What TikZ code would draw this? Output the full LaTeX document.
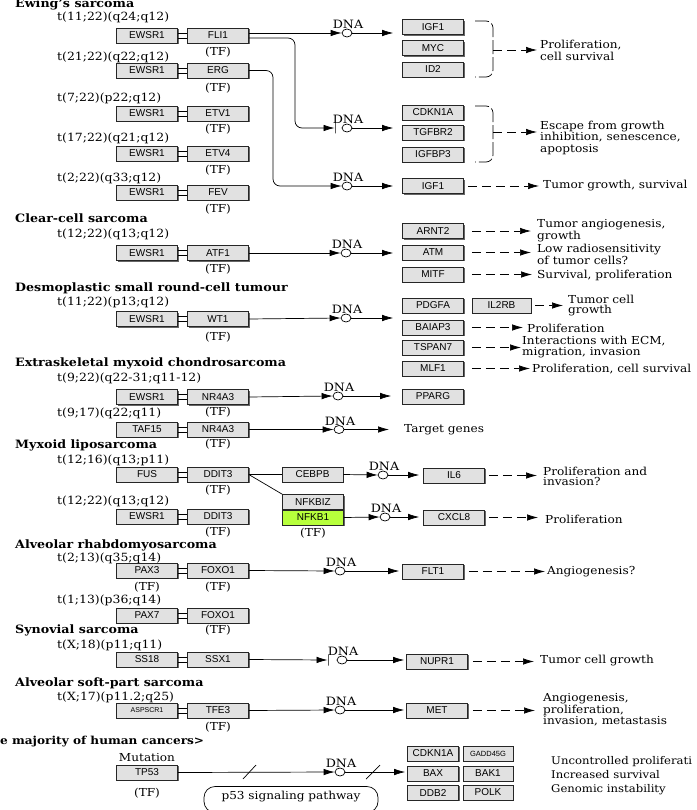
\documentclass[tikz,border=0pt]{standalone}
\usepackage{fontspec}
\setmainfont{DejaVu Serif}[FakeStretch=1.1]
\newfontfamily\gsans{Liberation Sans}
\usetikzlibrary{arrows.meta,shapes.geometric,shadows}
\definecolor{boxgray}{RGB}{225,225,225}
\definecolor{tfgreen}{RGB}{183,255,60}
\newcommand\fuse[2]{\draw[conn] ([yshift=2.5pt]#1.east) -- ([yshift=2.5pt]#2.west) ([yshift=-2.5pt]#1.east) -- ([yshift=-2.5pt]#2.west);}
\newcommand\dna[3]{\node[dnac] (#1) at (#2,#3) {}; \node[dnal] at ([xshift=1pt,yshift=4.5pt]#1.center) {DNA};}
\begin{document}
\begin{tikzpicture}[x=1pt,y=-1pt,
 gene/.style={draw=black!85, line width=0.6pt, fill=boxgray, minimum width=61pt, minimum height=15pt, inner sep=0pt, font=\gsans\fontsize{10}{10}\selectfont, drop shadow={shadow xshift=1.2pt, shadow yshift=-1.2pt, opacity=1, fill=black!60}},
 conn/.style={line width=0.7pt},
 act/.style={line width=0.7pt, -{Latex[length=11pt,width=6.5pt]}},
 dact/.style={line width=0.7pt, dash pattern=on 9pt off 5pt, -{Latex[length=11pt,width=6.5pt]}},
 brk/.style={line width=0.7pt, rounded corners=7pt, dash pattern=on 14pt off 3pt},
 inh/.style={draw, line width=0.9pt, minimum width=0pt, minimum height=11pt, inner sep=0pt},
 dnac/.style={ellipse, draw, line width=0.7pt, fill=white, minimum width=10pt, minimum height=8pt, inner sep=0pt},
 dnal/.style={anchor=base, inner sep=0pt, font=\fontsize{11.5}{11}\selectfont},
 tl/.style={anchor=west, inner sep=0pt, font=\fontsize{11.3}{11}\selectfont},
 tf/.style={inner sep=0pt, font=\fontsize{11}{11}\selectfont},
 title/.style={anchor=west, inner sep=0pt, font=\bfseries\fontsize{11.5}{11}\selectfont},
 res/.style={anchor=west, inner sep=0pt, align=left, font=\fontsize{11}{10}\selectfont},
 pathway/.style={draw, line width=0.7pt, rounded corners=11pt, minimum width=174pt, minimum height=26pt, text height=8pt, text depth=9pt, inner sep=0pt, font=\fontsize{11}{11}\selectfont}
]
\fill[white] (0,0) rectangle (696,810);
\useasboundingbox (0,0) rectangle (696,810);

% ---------------- Ewing's sarcoma
\node[title] (tEw) at (15,4) {Ewing's sarcoma};
\node[tl] (l1) at (57,17) {t(11;22)(q24;q12)};
\node[gene] (a1) at (147,35.5) {EWSR1};
\node[gene] (b1) at (218,35.5) {FLI1};
\node[tf] (f1) at (218,52) {(TF)};
\fuse{a1}{b1}
\node[tl] (l2) at (57,57) {t(21;22)(q22;q12)};
\node[gene] (a2) at (147,70.5) {EWSR1};
\node[gene] (b2) at (218,70.5) {ERG};
\node[tf] (f2) at (218,88) {(TF)};
\fuse{a2}{b2}
\node[tl] (l3) at (57,98) {t(7;22)(p22;q12)};
\node[gene] (a3) at (147,113.5) {EWSR1};
\node[gene] (b3) at (218,113.5) {ETV1};
\node[tf] (f3) at (218,129) {(TF)};
\fuse{a3}{b3}
\node[tl] (l4) at (57,138) {t(17;22)(q21;q12)};
\node[gene] (a4) at (147,153.5) {EWSR1};
\node[gene] (b4) at (218,153.5) {ETV4};
\node[tf] (f4) at (218,170) {(TF)};
\fuse{a4}{b4}
\node[tl] (l5) at (57,178) {t(2;22)(q33;q12)};
\node[gene] (a5) at (147,192.5) {EWSR1};
\node[gene] (b5) at (218,192.5) {FEV};
\node[tf] (f5) at (218,209) {(TF)};
\fuse{a5}{b5}

\dna{d1}{347}{33}
\draw[act] ([yshift=2.5pt]b1.east) -- (d1.west);
\node[gene] (g1) at (433,27) {IGF1};
\node[gene] (g2) at (433,48) {MYC};
\node[gene] (g3) at (433,69.5) {ID2};
\draw[act, shorten >=9pt] (d1.east) -- (d1.east -| g1.west);
\draw[brk] (475,21) -- (493,21) -- (493,77) -- (475,77);
\coordinate (c1) at (493,50);
\node[res, font=\fontsize{11}{12}\selectfont] (r1) at (540,50) {Proliferation,\\cell survival};
\draw[dact, shorten >=3pt] (c1) -- (c1 -| r1.west);

\node[inh] (i1) at (335,128) {};
\draw[act, rounded corners=7pt] ([yshift=-2.5pt]b1.east) -- (295,38) -- (295,128) -- (i1.west);
\dna{d2}{347}{128}
\node[gene] (g4) at (433,112.5) {CDKN1A};
\node[gene] (g5) at (433,132.5) {TGFBR2};
\node[gene] (g6) at (433,154.5) {IGFBP3};
\draw[act, shorten >=9pt] (d2.east) -- (d2.east -| g5.west);
\draw[brk] (475,106) -- (493,106) -- (493,162) -- (475,162);
\coordinate (c2) at (493,132);
\node[res, font=\fontsize{11}{11.5}\selectfont] (r2) at (540,137.5) {Escape from growth\\inhibition, senescence,\\apoptosis};
\draw[dact, shorten >=3pt] (c2) -- (c2 -| r2.west);

\dna{d3}{347}{186}
\draw[act, rounded corners=7pt] (b2.east) -- (273,70.5) -- (273,186) -- (d3.west);
\node[gene] (g7) at (433,186) {IGF1};
\draw[act, shorten >=9pt] (d3.east) -- (d3.east -| g7.west);
\node[res] (r3) at (543,186) {Tumor growth, survival};
\draw[dact, shorten <=4pt, shorten >=4pt] (g7.east) -- (g7.east -| r3.west);

% ---------------- Clear-cell sarcoma
\node[title] (tCl) at (15,218) {Clear-cell sarcoma};
\node[tl] (l6) at (57,234) {t(12;22)(q13;q12)};
\node[gene] (a6) at (147,253) {EWSR1};
\node[gene] (b6) at (218,253) {ATF1};
\node[tf] (f6) at (218,269) {(TF)};
\fuse{a6}{b6}
\dna{d4}{346}{253}
\draw[act] (b6.east) -- (d4.west);
\node[gene] (g8) at (433,231) {ARNT2};
\node[gene] (g9) at (433,252.5) {ATM};
\node[gene] (g10) at (433,274.5) {MITF};
\draw[act, shorten >=9pt] (d4.east) -- (d4.east -| g9.west);
\node[res, font=\fontsize{11}{9.5}\selectfont] (r4) at (537,230.5) {Tumor angiogenesis,\\growth};
\node[res, font=\fontsize{11}{9.5}\selectfont] (r5) at (537,254) {Low radiosensitivity\\of tumor cells?};
\node[res] (r6) at (537,275) {Survival, proliferation};
\draw[dact, shorten <=8pt, shorten >=6pt] (g8.east) -- (g8.east -| r4.west);
\draw[dact, shorten <=8pt, shorten >=6pt] (g9.east) -- (g9.east -| r5.west);
\draw[dact, shorten <=8pt, shorten >=5pt] (g10.east) -- (g10.east -| r6.west);

% ---------------- Desmoplastic small round-cell tumour
\node[title] (tDs) at (15,288) {Desmoplastic small round-cell tumour};
\node[tl] (l7) at (57,302) {t(11;22)(p13;q12)};
\node[gene] (a7) at (147,319) {EWSR1};
\node[gene] (b7) at (218,319) {WT1};
\node[tf] (f7) at (218,337) {(TF)};
\fuse{a7}{b7}
\dna{d5}{346}{318}
\draw[act] (b7.east) -- (d5.west);
\node[gene] (g11) at (433,305.5) {PDGFA};
\node[gene, minimum width=59pt] (g12) at (501.5,305.5) {IL2RB};
\node[gene] (g13) at (433,327.5) {BAIAP3};
\node[gene] (g14) at (433,347.5) {TSPAN7};
\node[gene] (g15) at (433,368.5) {MLF1};
\draw[act, shorten >=9pt] (d5.east) -- (d5.east -| g11.west);
\node[res, font=\fontsize{11}{10.5}\selectfont] (r7) at (568,305.5) {Tumor cell\\growth};
\node[res] (r8) at (527,328) {Proliferation};
\node[res, font=\fontsize{11}{10.5}\selectfont] (r9) at (522,347) {Interactions with ECM,\\migration, invasion};
\node[res] (r10) at (532,369) {Proliferation, cell survival};
\draw[dact, shorten <=4pt, shorten >=5pt] (g12.east) -- (g12.east -| r7.west);
\draw[dact, shorten <=8pt, shorten >=4pt] (g13.east) -- (g13.east -| r8.west);
\draw[dact, shorten <=8pt, shorten >=1pt] (g14.east) -- (g14.east -| r9.west);
\draw[dact, shorten <=8pt, shorten >=2pt] (g15.east) -- (g15.east -| r10.west);

% ---------------- Extraskeletal myxoid chondrosarcoma
\node[title] (tEx) at (15,363) {Extraskeletal myxoid chondrosarcoma};
\node[tl] (l8) at (57,378) {t(9;22)(q22-31;q11-12)};
\node[gene] (a8) at (147,397) {EWSR1};
\node[gene] (b8) at (218,397) {NR4A3};
\node[tf] (f8) at (218,412) {(TF)};
\fuse{a8}{b8}
\dna{d6}{338}{396}
\draw[act] (b8.east) -- (d6.west);
\node[gene] (g16) at (433,396.5) {PPARG};
\draw[act, shorten >=11pt] (d6.east) -- (d6.east -| g16.west);
\node[tl] (l9) at (57,413) {t(9;17)(q22;q11)};
\node[gene] (a9) at (147,429.5) {TAF15};
\node[gene] (b9) at (218,429.5) {NR4A3};
\node[tf] (f9) at (218,444) {(TF)};
\fuse{a9}{b9}
\dna{d7}{339}{429.5}
\draw[act] (b9.east) -- (d7.west);
\node[res] (r11) at (404,430) {Target genes};
\draw[act, shorten >=15pt] (d7.east) -- (d7.east -| r11.west);

% ---------------- Myxoid liposarcoma
\node[title] (tMy) at (15,445) {Myxoid liposarcoma};
\node[tl] (l10) at (57,460) {t(12;16)(q13;p11)};
\node[gene] (a10) at (147,474.5) {FUS};
\node[gene] (b10) at (218,474.5) {DDIT3};
\node[tf] (f10) at (218,490) {(TF)};
\fuse{a10}{b10}
\node[gene] (g17) at (312.5,474.5) {CEBPB};
\node[gene] (g18) at (313,502) {NFKBIZ};
\node[gene, fill=tfgreen] (g19) at (313,517.5) {NFKB1};
\node[tf] (f19) at (313,533) {(TF)};
\draw[conn] (b10.east) -- (g17.west);
\draw[conn] (b10.east) -- (g18.north west);
\dna{d8}{383}{475}
\draw[act] (g17.east) -- (d8.west);
\node[gene] (g20) at (454,475.5) {IL6};
\draw[act, shorten >=4pt] (d8.east) -- (d8.east -| g20.west);
\dna{d9}{385}{517}
\draw[act] (g19.east) -- (d9.west);
\node[gene] (g21) at (454,517.5) {CXCL8};
\draw[act, shorten >=4pt] (d9.east) -- (d9.east -| g21.west);
\node[res] (r12) at (543,476) {Proliferation and\\invasion?};
\node[res] (r13) at (545,519) {Proliferation};
\draw[dact, shorten <=4pt, shorten >=6pt] (g20.east) -- (g20.east -| r12.west);
\draw[dact, shorten <=4pt, shorten >=7pt] (g21.east) -- (g21.east -| r13.west);
\node[tl] (l11) at (57,501) {t(12;22)(q13;q12)};
\node[gene] (a11) at (147,516.5) {EWSR1};
\node[gene] (b11) at (218,516.5) {DDIT3};
\node[tf] (f11) at (218,532) {(TF)};
\fuse{a11}{b11}

% ---------------- Alveolar rhabdomyosarcoma
\node[title] (tAl) at (15,545) {Alveolar rhabdomyosarcoma};
\node[tl] (l12) at (57,558) {t(2;13)(q35;q14)};
\node[gene] (a12) at (147,570.5) {PAX3};
\node[gene] (b12) at (218,570.5) {FOXO1};
\node[tf] (e12) at (147,587) {(TF)};
\node[tf] (f12) at (218,587) {(TF)};
\fuse{a12}{b12}
\dna{d10}{340}{571}
\draw[act] (b12.east) -- (d10.west);
\node[gene] (g22) at (433,571.5) {FLT1};
\draw[act, shorten >=3pt] (d10.east) -- (d10.east -| g22.west);
\node[res] (r14) at (547,572) {Angiogenesis?};
\draw[dact, shorten <=5pt, shorten >=2pt] (g22.east) -- (g22.east -| r14.west);
\node[tl] (l13) at (57,600) {t(1;13)(p36;q14)};
\node[gene] (a13) at (147,615.5) {PAX7};
\node[gene] (b13) at (218,615.5) {FOXO1};
\node[tf] (f13) at (218,630) {(TF)};
\fuse{a13}{b13}

% ---------------- Synovial sarcoma
\node[title] (tSy) at (15,630) {Synovial sarcoma};
\node[tl] (l14) at (57,645) {t(X;18)(p11;q11)};
\node[gene] (a14) at (147,659.5) {SS18};
\node[gene] (b14) at (218,659.5) {SSX1};
\fuse{a14}{b14}
\node[inh] (i2) at (328,660) {};
\draw[act] (b14.east) -- (i2.west);
\dna{d11}{342}{660}
\node[gene] (g23) at (437,661.5) {NUPR1};
\draw[act, shorten >=2pt] (d11.east) -- (d11.east -| g23.west);
\node[res] (r15) at (540,661) {Tumor cell growth};
\draw[dact, shorten <=5pt, shorten >=6pt] (g23.east) -- (g23.east -| r15.west);

% ---------------- Alveolar soft-part sarcoma
\node[title] (tAs) at (15,683) {Alveolar soft-part sarcoma};
\node[tl] (l15) at (57,697) {t(X;17)(p11.2;q25)};
\node[gene, font=\gsans\fontsize{7}{8}\selectfont] (a15) at (147,710.5) {ASPSCR1};
\node[gene] (b15) at (218,710.5) {TFE3};
\node[tf] (f15) at (218,727) {(TF)};
\fuse{a15}{b15}
\dna{d12}{340}{710}
\draw[act] (b15.east) -- (d12.west);
\node[gene] (g24) at (437,710.5) {MET};
\draw[act, shorten >=2pt] (d12.east) -- (d12.east -| g24.west);
\node[res, font=\fontsize{11}{9.5}\selectfont] (r16) at (543,710) {Angiogenesis,\\proliferation,\\invasion, metastasis};
\draw[dact, shorten <=5pt, shorten >=8pt] (g24.east) -- (g24.east -| r16.west);

% ---------------- majority of human cancers
\node[title, font=\bfseries\fontsize{11}{11}\selectfont] (tMa) at (0,742) {e majority of human cancers>};
\node[tf] (mu) at (147,758) {Mutation};
\node[gene] (tp) at (147,772.5) {TP53};
\node[tf] (ftp) at (147,793) {(TF)};
\dna{d13}{340}{772}
\draw[act] (tp.east) -- (d13.west);
\draw[conn] (243,779) -- (256,765);
\node[gene, minimum width=51pt] (g25) at (433,753.5) {CDKN1A};
\node[gene, minimum width=51pt] (g26) at (433,773.5) {BAX};
\node[gene, minimum width=51pt] (g27) at (433,792.5) {DDB2};
\node[gene, minimum width=50pt, font=\gsans\fontsize{7.5}{8}\selectfont] (g28) at (488,753.5) {GADD45G};
\node[gene, minimum width=50pt] (g29) at (488,773.5) {BAK1};
\node[gene, minimum width=50pt] (g30) at (488,792.5) {POLK};
\draw[act, shorten >=2pt] (d13.east) -- (d13.east -| g26.west);
\draw[conn] (366,779) -- (380,765);
\node[res, font=\fontsize{10.6}{14}\selectfont] (r17) at (551,776) {Uncontrolled proliferati\\Increased survival\\Genomic instability};
\node[pathway] (p53) at (291,799.5) {p53 signaling pathway};
\end{tikzpicture}
\end{document}
